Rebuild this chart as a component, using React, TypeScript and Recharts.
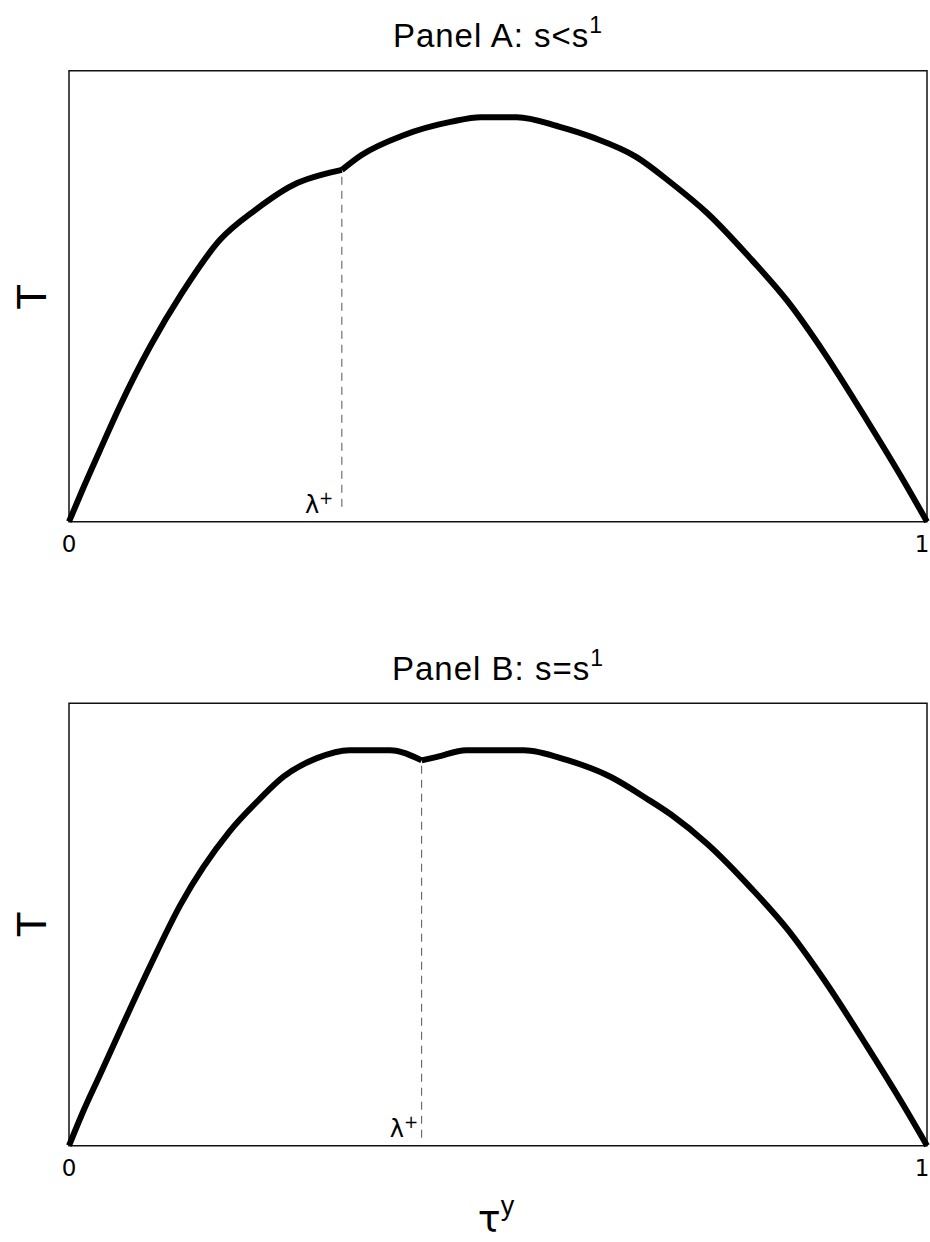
import { LineChart, Line, XAxis, YAxis, ReferenceArea, ReferenceLine, ReferenceDot } from "recharts";

// Panel A: s < s^1
const tauA = [0, 0.016, 0.036, 0.059, 0.095, 0.131, 0.176, 0.217, 0.266, 0.294, 0.318, 0.341, 0.39, 0.446, 0.48, 0.522, 0.571, 0.612, 0.661, 0.702, 0.744, 0.796, 0.837, 0.88, 0.93, 0.972, 1];
const valA = [0, 0.072, 0.158, 0.255, 0.39, 0.505, 0.625, 0.691, 0.751, 0.769, 0.78, 0.813, 0.857, 0.887, 0.897, 0.897, 0.876, 0.851, 0.809, 0.751, 0.684, 0.58, 0.49, 0.375, 0.225, 0.093, 0];

// Panel B: s = s^1
const tauB = [0, 0.016, 0.036, 0.06, 0.093, 0.13, 0.187, 0.223, 0.25, 0.289, 0.327, 0.374, 0.411, 0.429, 0.463, 0.53, 0.58, 0.631, 0.673, 0.702, 0.744, 0.796, 0.837, 0.88, 0.93, 0.972, 1];
const valB = [0, 0.075, 0.16, 0.262, 0.4, 0.545, 0.71, 0.785, 0.834, 0.876, 0.894, 0.894, 0.871, 0.879, 0.894, 0.894, 0.872, 0.834, 0.785, 0.748, 0.682, 0.58, 0.49, 0.375, 0.225, 0.093, 0];

// lambda+ marker: position on tau axis, curve value there, bottom of the dashes
const lambdaA = 0.318;
const kinkA = 0.78;
const lambdaB = 0.411;
const kinkB = 0.871;
const dashBottomA = 0.033;
const dashBottomB = 0.018;

const xTicks = [0, 1];

// split at lambda so the kink stays sharp while each side is smoothed
const toRows = (xs: number[], ys: number[], lam: number) =>
  xs.map((tau, i) => ({
    tau,
    left: tau <= lam ? ys[i] : null,
    right: tau >= lam ? ys[i] : null,
  }));

interface PanelProps {
  data: { tau: number; left: number | null; right: number | null }[];
  lambda: number;
  kink: number;
  dashBottom: number;
  top: number;
  height: number;
  margin: { top: number; right: number; bottom: number; left: number };
  labelDx: number;
}

const Tick = (p: any) => (
  <text
    x={Math.min(p.x, 922)}
    y={p.y}
    dy="0.71em"
    textAnchor="middle"
    fontFamily="DejaVu Sans"
    fontSize={23}
    fill="#000"
  >
    {p.payload.value}
  </text>
);

function Panel({ data, lambda, kink, dashBottom, top, height, margin, labelDx }: PanelProps) {
  return (
    <div style={{ position: "absolute", left: 0, top }}>
      <LineChart width={930} height={height} data={data} margin={margin}>
        <XAxis
          type="number"
          dataKey="tau"
          domain={[0, 1]}
          ticks={xTicks}
          interval={0}
          tickLine={false}
          axisLine={false}
          height={30}
          tickMargin={8}
          tick={Tick}
        />
        <YAxis type="number" domain={[0, 1]} hide />
        <ReferenceLine
          segment={[{ x: lambda, y: dashBottom }, { x: lambda, y: kink }]}
          stroke="#555"
          strokeWidth={1}
          strokeDasharray="8 6"
        />
        <ReferenceDot
          x={lambda}
          y={0}
          r={0}
          shape={(p: any) => (
            <text x={p.cx - labelDx} y={p.cy - 8.5} textAnchor="end" fontFamily="DejaVu Sans" fontSize={24} fill="#000">
              λ<tspan dy={-9} fontSize={17}>+</tspan>
            </text>
          )}
        />
        <Line
          type="monotoneX"
          dataKey="left"
          stroke="#000"
          strokeWidth={6}
          strokeLinejoin="round"
          dot={false}
          isAnimationActive={false}
        />
        <Line
          type="monotoneX"
          dataKey="right"
          stroke="#000"
          strokeWidth={6}
          strokeLinejoin="round"
          dot={false}
          isAnimationActive={false}
        />
        <ReferenceArea x1={0} x2={1} y1={0} y2={1} fill="none" fillOpacity={0} stroke="#111" strokeWidth={1.5} />
      </LineChart>
    </div>
  );
}

export default function App() {
  const titleFont = { fontFamily: "Liberation Sans, Arial, sans-serif", fontSize: 33, letterSpacing: 1 };
  return (
    <div style={{ position: "absolute", left: 0, top: 0, width: 930, height: 1242, background: "#fff" }}>
      <Panel
        data={toRows(tauA, valA, lambdaA)}
        lambda={lambdaA}
        kink={kinkA}
        dashBottom={dashBottomA}
        top={0}
        height={600}
        margin={{ top: 70.7, right: 3, bottom: 48.3, left: 69 }}
        labelDx={8.5}
      />
      <Panel
        data={toRows(tauB, valB, lambdaB)}
        lambda={lambdaB}
        kink={kinkB}
        dashBottom={dashBottomB}
        top={630}
        height={612}
        margin={{ top: 73.3, right: 3, bottom: 66.3, left: 69 }}
        labelDx={3.5}
      />
      <svg width={930} height={1242} style={{ position: "absolute", left: 0, top: 0, pointerEvents: "none" }}>
        <text x={498} y={46.7} textAnchor="middle" {...titleFont}>
          Panel A: s&lt;s<tspan dy={-14} fontSize={23}>1</tspan>
        </text>
        <text x={498} y={680} textAnchor="middle" {...titleFont}>
          Panel B: s=s<tspan dy={-14} fontSize={23}>1</tspan>
        </text>
        <text
          x={31}
          y={297}
          transform="rotate(-90, 31, 297)"
          textAnchor="middle"
          dominantBaseline="central"
          fontFamily="Liberation Sans, Arial, sans-serif"
          fontSize={42}
        >
          T
        </text>
        <text
          x={31}
          y={924.5}
          transform="rotate(-90, 31, 924.5)"
          textAnchor="middle"
          dominantBaseline="central"
          fontFamily="Liberation Sans, Arial, sans-serif"
          fontSize={42}
        >
          T
        </text>
        <text x={496} y={1232} textAnchor="middle" fontFamily="DejaVu Sans" fontSize={38}>
          τ<tspan dy={-17} fontSize={27} fontFamily="Liberation Sans, Arial, sans-serif">y</tspan>
        </text>
      </svg>
    </div>
  );
}
